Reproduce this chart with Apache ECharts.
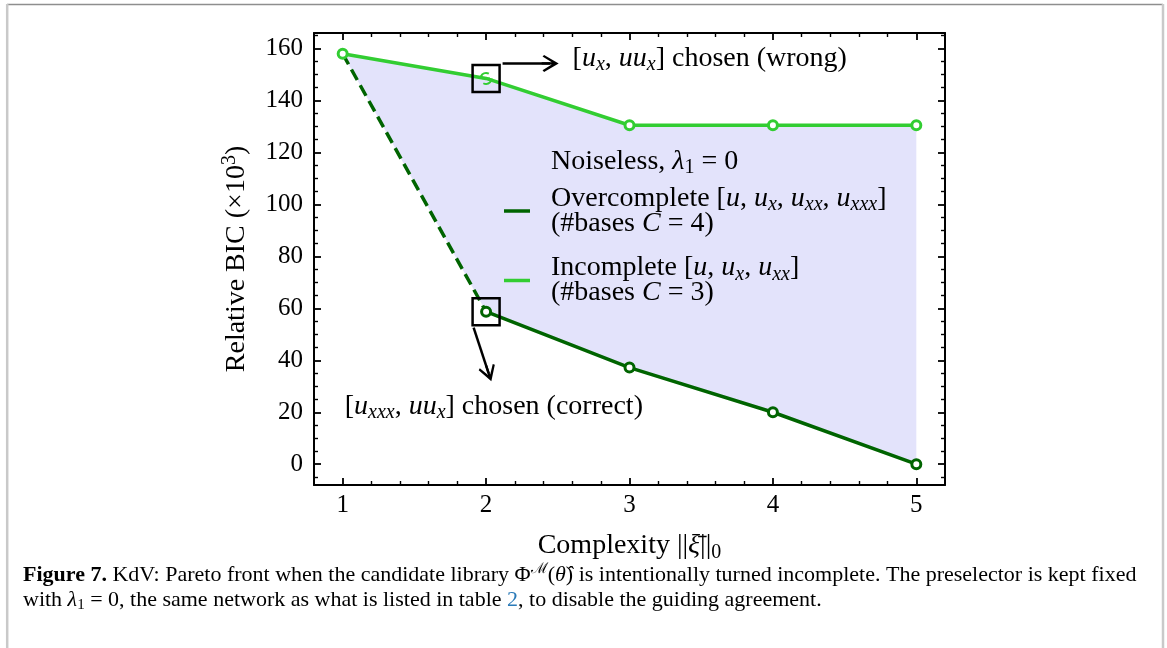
<!DOCTYPE html>
<html>
<head>
<meta charset="utf-8">
<script src="https://cdn.jsdelivr.net/npm/echarts@6/dist/echarts.min.js"></script>
<style>
  html, body { margin: 0; padding: 0; background: #fff; }
  #chart { width: 1167px; height: 648px; }
</style>
</head>
<body>
<div id="chart"></div>
<script>
// Pareto front: relative BIC (x10^3) against model complexity
const complexity   = [1, 2, 3, 4, 5];
const overcomplete = [158.0, 58.7, 37.2, 20.0, 0.0];     // library [u, u_x, u_xx, u_xxx]
const incomplete   = [158.0, 148.5, 130.5, 130.5, 130.5]; // library [u, u_x, u_xx]

// axis extents and tick steps
const xExtent = [0.8, 5.2];
const yExtent = [-8, 166];
const xStep = 1;
const yStep = 20;

// index of the model picked on each front (complexity 2)
const pickedIndex = 1;

const SERIF = "'Liberation Serif', 'DejaVu Serif', serif";
const DARK = '#006400';
const LIME = '#32cd32';
const FILL = '#e3e3fb';
const TEXT = 28;   // body text of labels
const DIGIT = 25;  // tick numbers

// rich-text styles for inline math: italic symbols, sub- and superscripts
function mathRich(size, lh) {
  const small = Math.round(size * 0.7);
  const base = { fontFamily: SERIF, color: '#000', fill: '#000', lineHeight: lh };
  const down = [Math.round(size * 0.45), 0, 0, 0];
  return {
    r:   Object.assign({}, base, { fontSize: size }),
    i:   Object.assign({}, base, { fontSize: size, fontStyle: 'italic' }),
    s:   Object.assign({}, base, { fontSize: small, fontStyle: 'italic', verticalAlign: 'middle', padding: down }),
    n:   Object.assign({}, base, { fontSize: small, verticalAlign: 'middle', padding: down }),
    sup: Object.assign({}, base, { fontSize: small, verticalAlign: 'middle', padding: [0, 0, Math.round(size * 0.55), 0] }),
    b:   Object.assign({}, base, { fontSize: size, fontWeight: 'bold' }),
    link: Object.assign({}, base, { fontSize: size, color: '#2a7ab8', fill: '#2a7ab8' })
  };
}

const pairs = (xs, ys, from, to) => xs.slice(from, to).map((x, k) => [x, ys[from + k]]);

const legendText = {
  'Overcomplete': 'Overcomplete [{i|u}, {i|u}{s|x}, {i|u}{s|xx}, {i|u}{s|xxx}]\n(#bases {i|C} = 4)',
  'Incomplete':   'Incomplete [{i|u}, {i|u}{s|x}, {i|u}{s|xx}]\n(#bases {i|C} = 3)'
};

// annotation placement, in data units
const notes = {
  wrong:   { text: [2.603, 156.2], arrow: [[2.115, 154.3], [2.447, 154.3]],
             label: '[{i|u}{s|x}, {i|uu}{s|x}] chosen (wrong)' },
  correct: { text: [1.014, 22.3], arrow: [[1.913, 52.6], [2.018, 35.0]],
             label: '[{i|u}{s|xxx}, {i|uu}{s|x}] chosen (correct)' }
};

// open arrow head with a short stem, tip pointing along the line
const ARROW_HEAD = 'path://M5,0 L10,8.6 L9,9.5 L5.65,4.1 L5.65,10 L4.35,10 L4.35,4.1 L1,9.5 L0,8.6 Z';
// broken ring used for the point that was picked on the incomplete front
const BROKEN_RING = 'path://M0,5 A5,5 0 0 1 7.5,0.67 L6.75,1.97 A3.5,3.5 0 0 0 1.5,5 Z M10,5 A5,5 0 0 1 2.5,9.33 L3.25,8.03 A3.5,3.5 0 0 0 8.5,5 Z M2,4.3 L8,4.3 L8,5.7 L2,5.7 Z';

function frameAxis(extra, minorSplit) {
  return Object.assign({
    type: 'value',
    axisLine: { show: true, onZero: false, lineStyle: { color: '#000', width: 2 } },
    axisTick: { show: true, inside: true, length: 7, lineStyle: { color: '#000', width: 1.8 } },
    minorTick: { show: true, splitNumber: minorSplit, length: 4, lineStyle: { color: '#000', width: 1.4 } },
    splitLine: { show: false },
    minorSplitLine: { show: false }
  }, extra);
}

const digitStyle = { fontFamily: SERIF, fontSize: DIGIT, color: '#000' };
const textStyle = { fontFamily: SERIF, fontSize: TEXT, color: '#000' };

const xBase = { min: xExtent[0], max: xExtent[1], minInterval: xStep, maxInterval: xStep };
const yBase = { min: yExtent[0], max: yExtent[1], minInterval: yStep, maxInterval: yStep };

// open-circle markers drawn on top of a front's line
function markerSeries(color, data, z) {
  return {
    type: 'scatter',
    z: z,
    silent: true,
    symbol: 'circle',
    symbolSize: 9,
    data: data,
    itemStyle: { color: '#fff', borderColor: color, borderWidth: 3, opacity: 1 }
  };
}

const option = {
  animation: false,
  backgroundColor: '#fff',
  grid: { left: 314, top: 33, width: 631, height: 452, containLabel: false },
  xAxis: [
    frameAxis(Object.assign({}, xBase, {
      position: 'bottom',
      axisLabel: Object.assign({}, digitStyle, {
        margin: 8, showMinLabel: false, showMaxLabel: false,
        formatter: v => (Math.abs(v - Math.round(v)) < 1e-9 ? String(Math.round(v)) : '')
      }),
      name: 'Complexity ||{i|ξ̄}||{n|0}',
      nameLocation: 'middle',
      nameGap: 46,
      nameTextStyle: Object.assign({}, textStyle, { lineHeight: 30, rich: mathRich(TEXT, 30) })
    }), 5),
    frameAxis(Object.assign({}, xBase, { position: 'top', axisLabel: { show: false } }), 5)
  ],
  yAxis: [
    frameAxis(Object.assign({}, yBase, {
      position: 'left',
      axisLabel: Object.assign({}, digitStyle, {
        margin: 11, showMinLabel: false, showMaxLabel: false,
        formatter: v => (v % yStep === 0 ? String(v) : '')
      }),
      name: 'Relative BIC (×10{sup|3})',
      nameLocation: 'middle',
      nameRotate: 90,
      nameGap: 58,
      nameTextStyle: Object.assign({}, textStyle, { lineHeight: 30, rich: mathRich(TEXT, 30) })
    }), 4),
    frameAxis(Object.assign({}, yBase, { position: 'right', axisLabel: { show: false } }), 4)
  ],
  legend: {
    data: ['Overcomplete', 'Incomplete'],
    orient: 'vertical',
    left: 504,
    top: 182,
    padding: 0,
    itemGap: 14,
    itemWidth: 26,
    itemHeight: 3.5,
    icon: 'rect',
    selectedMode: false,
    itemStyle: { borderWidth: 0 },
    formatter: name => legendText[name],
    textStyle: Object.assign({}, textStyle, { lineHeight: 25, padding: [0, 0, 0, 16], rich: mathRich(TEXT, 25) })
  },
  series: [
    {
      // shaded region between the two fronts
      type: 'custom',
      silent: true,
      z: 1,
      data: [[complexity[0], incomplete[0]]],
      renderItem: function (params, api) {
        const pts = [];
        for (let k = 0; k < complexity.length; k++) pts.push(api.coord([complexity[k], incomplete[k]]));
        for (let k = complexity.length - 1; k >= 0; k--) pts.push(api.coord([complexity[k], overcomplete[k]]));
        return { type: 'polygon', shape: { points: pts }, style: { fill: FILL } };
      }
    },
    {
      name: 'Overcomplete (lead-in)',
      type: 'line',
      z: 3,
      silent: true,
      showSymbol: false,
      data: pairs(complexity, overcomplete, 0, 2),
      lineStyle: { color: DARK, width: 3.5, type: [12, 6] }
    },
    {
      name: 'Overcomplete',
      type: 'line',
      z: 4,
      silent: true,
      showSymbol: false,
      data: pairs(complexity, overcomplete, 1, complexity.length),
      itemStyle: { color: DARK },
      lineStyle: { color: DARK, width: 3.5 }
    },
    {
      name: 'Incomplete',
      type: 'line',
      z: 5,
      silent: true,
      showSymbol: false,
      data: pairs(complexity, incomplete, 0, complexity.length),
      itemStyle: { color: LIME },
      lineStyle: { color: LIME, width: 3.5 }
    },
    markerSeries(DARK, pairs(complexity, overcomplete, 1, complexity.length), 6),
    markerSeries(LIME, pairs(complexity, incomplete, 0, complexity.length).map((p, k) =>
      k === pickedIndex
        ? { value: p, symbol: BROKEN_RING, symbolSize: 13, itemStyle: { color: LIME, borderWidth: 0 } }
        : p), 7),
    {
      // boxes around the chosen models
      name: 'chosen',
      type: 'scatter',
      z: 8,
      silent: true,
      symbol: 'rect',
      symbolSize: 27,
      data: [[complexity[pickedIndex], incomplete[pickedIndex]],
             [complexity[pickedIndex], overcomplete[pickedIndex]]],
      itemStyle: { color: 'rgba(0,0,0,0)', borderColor: '#000', borderWidth: 2.5, opacity: 1 }
    },
    {
      // annotation texts and arrows
      name: 'notes',
      type: 'scatter',
      z: 9,
      silent: true,
      symbolSize: 0,
      itemStyle: { opacity: 1 },
      data: Object.values(notes).map(n => ({
        value: n.text,
        label: {
          show: true, position: 'right', distance: 0,
          formatter: n.label,
          fontFamily: SERIF, fontSize: TEXT, color: '#000', lineHeight: 30,
          rich: mathRich(TEXT, 30)
        }
      })),
      markLine: {
        silent: true,
        animation: false,
        symbol: ['none', ARROW_HEAD],
        symbolSize: 17,
        label: { show: false },
        lineStyle: { color: '#000', width: 2.5, type: 'solid', opacity: 1 },
        emphasis: { disabled: true },
        data: Object.values(notes).map(n => [{ coord: n.arrow[0] }, { coord: n.arrow[1] }])
      }
    }
  ],
  graphic: [
    // page frame
    { type: 'line', silent: true, z: 100, shape: { x1: 7, y1: 4.5, x2: 1163, y2: 4.5 }, style: { stroke: '#8e8e8e', lineWidth: 1.5 } },
    { type: 'line', silent: true, z: 100, shape: { x1: 7.2, y1: 4, x2: 7.2, y2: 648 }, style: { stroke: '#c9c9c9', lineWidth: 2.5 } },
    { type: 'line', silent: true, z: 100, shape: { x1: 1163, y1: 4, x2: 1163, y2: 648 }, style: { stroke: '#c9c9c9', lineWidth: 2.5 } },
    // legend heading
    {
      type: 'text', left: 551, top: 145, silent: true, z: 100,
      style: {
        text: 'Noiseless, {i|λ}{n|1} = 0',
        fontFamily: SERIF, fontSize: TEXT, fill: '#000', lineHeight: 30,
        rich: mathRich(TEXT, 30)
      }
    },
    // caption
    {
      type: 'text', left: 23, top: 562, silent: true, z: 100,
      style: {
        text: '{b|Figure 7.} KdV: Pareto front when the candidate library Φ{sup|ℳ}({i|θ̂}) is intentionally turned incomplete. The preselector is kept fixed\n' +
              'with {i|λ}{n|1} = 0, the same network as what is listed in table {link|2}, to disable the guiding agreement.',
        fontFamily: SERIF, fontSize: 22, fill: '#000', lineHeight: 25,
        rich: mathRich(22, 25)
      }
    }
  ]
};

const chart = echarts.init(document.getElementById('chart'), null, { renderer: 'canvas' });
chart.setOption(option);
</script>
</body>
</html>
